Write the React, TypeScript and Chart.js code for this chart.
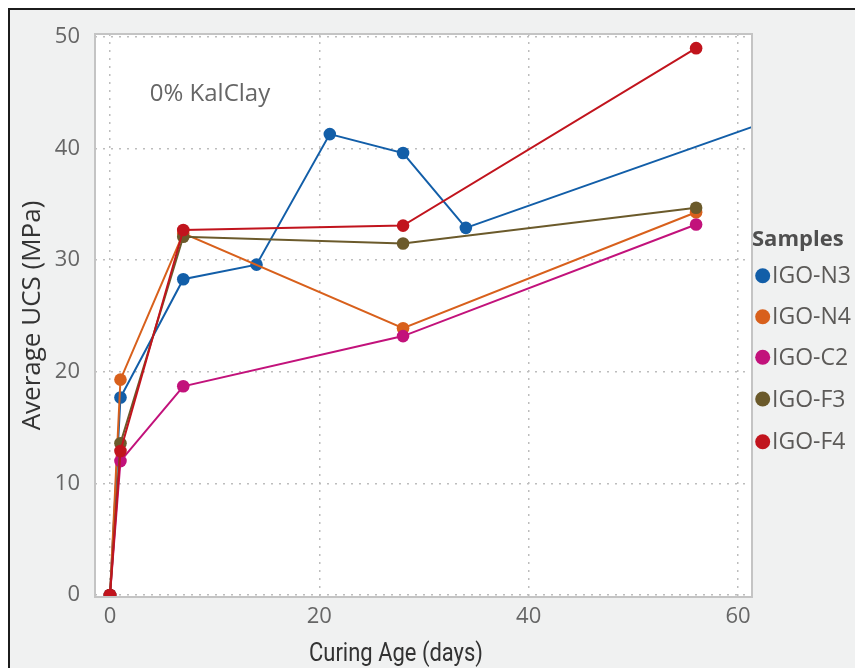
import React, { useEffect, useRef } from "react";
import { Chart, registerables } from "chart.js";

Chart.register(...registerables);

// Curing age (days) and average UCS (MPa) per sample
const n3Days = [0, 1, 7, 14, 21, 28, 34, 90];
const n3Ucs = [0, 17.7, 28.3, 29.6, 41.3, 39.6, 32.9, 51.4];
const commonDays = [0, 1, 7, 28, 56];
const n4Ucs = [0, 19.3, 32.4, 23.9, 34.3];
const c2Ucs = [0, 12.0, 18.7, 23.2, 33.2];
const f3Ucs = [0, 13.6, 32.1, 31.5, 34.7];
const f4Ucs = [0, 12.9, 32.7, 33.1, 49.0];

const sampleNames = ["IGO-N3", "IGO-N4", "IGO-C2", "IGO-F3", "IGO-F4"];
const sampleColors = ["#125ea8", "#d8601c", "#c2127b", "#6b5a2b", "#c1141d"];

const xTicks = [0, 20, 40, 60];
const yTicks = [0, 10, 20, 30, 40, 50];

const legendTitle = "Samples";
const noteText = "0% KalClay";
const xTitle = "Curing Age (days)";
const yTitle = "Average UCS (MPa)";

const W = 845;
const H = 658;
const AREA = { left: 85, top: 24, right: 742, bottom: 587 };

const toPoints = (days: number[], vals: number[]) =>
  days.map((d, i) => ({ x: d, y: vals[i] }));

const frameAndLabels = {
  id: "frameAndLabels",
  beforeDraw(chart: any) {
    const { ctx, chartArea: a } = chart;
    ctx.save();
    ctx.fillStyle = "#ffffff";
    ctx.fillRect(a.left, a.top, a.right - a.left, a.bottom - a.top);
    ctx.restore();
  },
  afterDraw(chart: any) {
    const { ctx, chartArea: a } = chart;
    ctx.save();
    // plot frame
    ctx.strokeStyle = "#c4c4c4";
    ctx.lineWidth = 2;
    ctx.strokeRect(a.left, a.top, a.right - a.left, a.bottom - a.top);

    // note inside the plot
    ctx.fillStyle = "#666666";
    ctx.font = '24px "Open Sans", "Noto Sans", sans-serif';
    ctx.textAlign = "center";
    ctx.textBaseline = "alphabetic";
    ctx.fillText(noteText, 200, 91);

    // x axis title
    ctx.fillStyle = "#333333";
    ctx.font = '26px Roboto, "Open Sans", sans-serif';
    ctx.fillText(xTitle, 386, 651, 174);

    // legend
    ctx.textAlign = "left";
    ctx.textBaseline = "middle";
    ctx.fillStyle = "#4f4f4f";
    ctx.font = 'bold 22px "Open Sans", "Noto Sans", sans-serif';
    ctx.fillText(legendTitle, 742, 230);
    ctx.font = '23px "Open Sans", "Noto Sans", sans-serif';
    const rowY = [265.7, 306.7, 347.2, 389, 431.7];
    sampleNames.forEach((name, i) => {
      ctx.beginPath();
      ctx.fillStyle = sampleColors[i];
      ctx.arc(752.7, rowY[i], 7.5, 0, Math.PI * 2);
      ctx.fill();
      ctx.fillStyle = "#5c5a58";
      ctx.fillText(name, 762, rowY[i] + 1);
    });
    ctx.restore();
  },
};

export default function App() {
  const ref = useRef<HTMLCanvasElement | null>(null);

  useEffect(() => {
    if (!ref.current) return;
    const series = [
      toPoints(n3Days, n3Ucs),
      toPoints(commonDays, n4Ucs),
      toPoints(commonDays, c2Ucs),
      toPoints(commonDays, f3Ucs),
      toPoints(commonDays, f4Ucs),
    ];
    const drawOrder = [4, 3, 2, 1, 0];
    const tickFont = { size: 22, family: '"Open Sans", "Noto Sans", sans-serif' };
    const chart = new Chart(ref.current, {
      type: "line",
      data: {
        datasets: series.map((pts, i) => ({
          label: sampleNames[i],
          data: pts,
          borderColor: sampleColors[i],
          backgroundColor: sampleColors[i],
          borderWidth: 2,
          pointRadius: 6.3,
          pointBorderWidth: 0,
          pointHoverRadius: 6.3,
          tension: 0,
          clip: 0,
          order: drawOrder[i],
        })),
      },
      options: {
        animation: false,
        responsive: false,
        devicePixelRatio: 1,
        layout: {
          padding: { left: 0, top: AREA.top, right: W - AREA.right, bottom: 0 },
        },
        plugins: {
          legend: { display: false },
          tooltip: { enabled: false },
        },
        scales: {
          x: {
            type: "linear",
            min: -1.433,
            max: 61.34,
            afterBuildTicks: (s: any) => {
              s.ticks = xTicks.map((v) => ({ value: v }));
            },
            afterFit: (s: any) => {
              s.height = H - AREA.bottom;
              s.paddingLeft = 0;
              s.paddingRight = 0;
            },
            border: { display: false, dash: [2, 6] },
            grid: {
              color: "#bdbdbd",
              lineWidth: 1.5,
              drawTicks: false,
            },
            ticks: {
              color: "#666666",
              padding: 7,
              font: tickFont,
            },
          },
          y: {
            type: "linear",
            min: -0.18,
            max: 50.27,
            afterBuildTicks: (s: any) => {
              s.ticks = yTicks.map((v) => ({ value: v }));
            },
            afterFit: (s: any) => {
              s.width = AREA.left;
              s.paddingTop = 0;
              s.paddingBottom = 0;
            },
            border: { display: false, dash: [2, 6] },
            grid: {
              color: "#bdbdbd",
              lineWidth: 1.5,
              drawTicks: false,
            },
            ticks: {
              color: "#666666",
              padding: 15,
              font: tickFont,
            },
            title: {
              display: true,
              text: yTitle,
              color: "#333333",
              padding: 7,
              font: { size: 26, family: '"Open Sans", "Noto Sans", sans-serif' },
            },
          },
        },
      },
      plugins: [frameAndLabels],
    });
    return () => chart.destroy();
  }, []);

  return (
    <div
      style={{
        position: "fixed",
        left: 8,
        top: 8,
        width: W + 2,
        height: H + 2,
        boxSizing: "border-box",
        borderTop: "2px solid #1c1c1c",
        borderLeft: "2px solid #1c1c1c",
        background: "#f0f1f1",
      }}
    >
      <canvas ref={ref} width={W} height={H} style={{ display: "block" }} />
    </div>
  );
}
